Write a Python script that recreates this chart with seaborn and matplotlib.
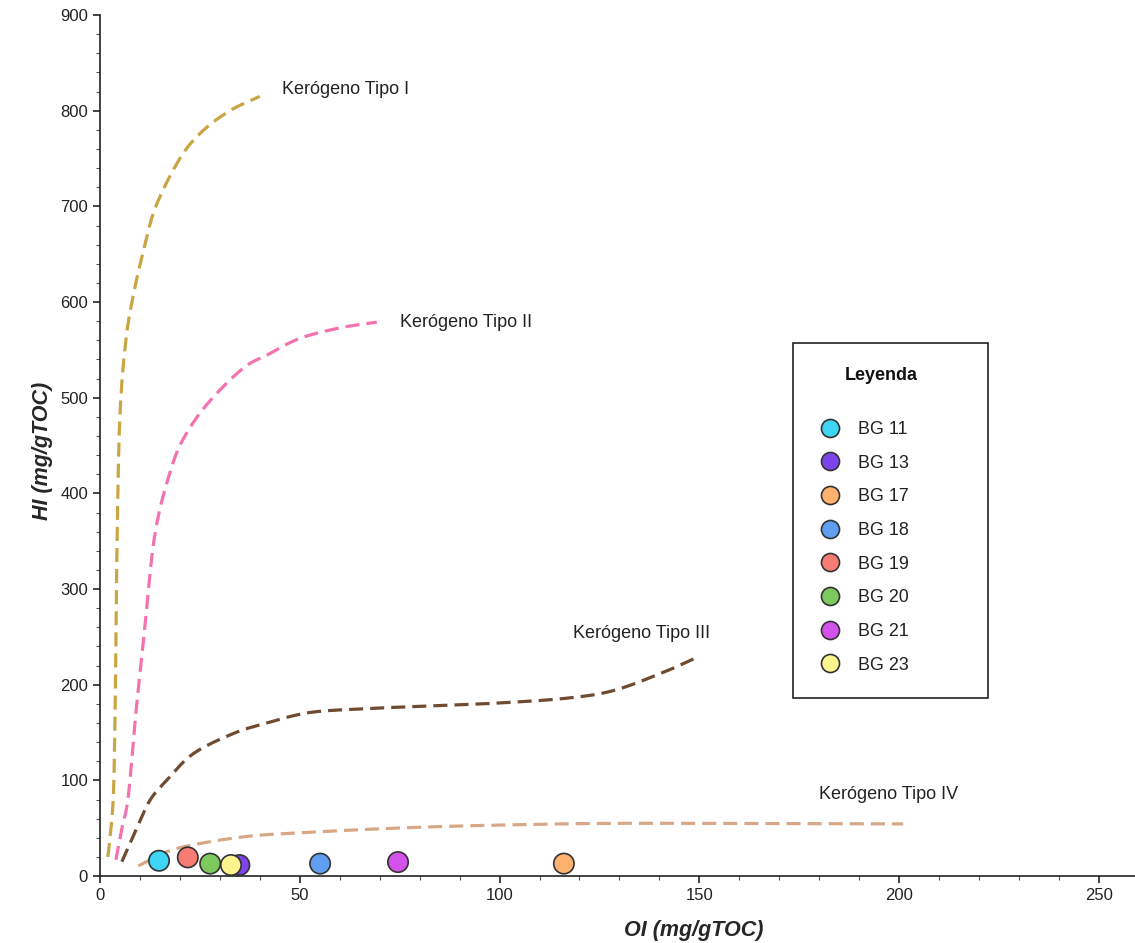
import matplotlib
matplotlib.use("Agg")
import matplotlib.pyplot as plt
import seaborn as sns
import pandas as pd
import numpy as np
from matplotlib.ticker import MultipleLocator
from matplotlib.lines import Line2D
from matplotlib.patches import Rectangle

sns.set_theme(style="ticks")
plt.rcParams['font.family'] = ['Liberation Sans', 'DejaVu Sans']

# Samples
samples = ["BG 11", "BG 13", "BG 17", "BG 18", "BG 19", "BG 20", "BG 21", "BG 23"]
oi_values = [14.8, 34.9, 116.1, 55.1, 22.0, 27.6, 74.6, 32.8]
hi_values = [16, 11.5, 13, 13, 19.5, 13, 14.6, 11.5]
sample_colors = ["#3fd5f4", "#7d44ec", "#ffb26e", "#5f9ff2", "#f87c74", "#7ec95e", "#d452ec", "#fcf48e"]

# Kerogen type curves
k1_oi = [2.0, 3.0, 3.5, 3.9, 4.3, 5.0, 6.5, 8.5, 11.0, 14.0, 20.0, 25.5, 32.5, 40.0]
k1_hi = [20, 60, 100, 200, 350, 480, 560, 610, 655, 700, 750, 778, 800, 815]
k2_oi = [4.0, 5.5, 7.1, 9.0, 11.0, 13.8, 18.0, 21.7, 27.6, 35.9, 42.0, 50.0, 60.0, 69.3]
k2_hi = [17, 50, 83, 170, 250, 358, 428, 463, 497, 531, 545, 562, 573, 579]
k3_oi = [5.5, 9.0, 12.5, 16.7, 23.4, 33.4, 41.8, 52.6, 66.8, 83.5, 100.3, 117.0, 128.6, 141.0, 149.6]
k3_hi = [15, 48, 79, 100, 128, 149, 160, 171, 175, 178, 181, 186, 194, 213, 229]
k4_oi = [9.6, 16.7, 25.0, 37.6, 50.1, 66.8, 83.5, 100.3, 125.4, 160.0, 201.0]
k4_hi = [10.5, 25.4, 34, 41.8, 45.2, 48.8, 51.5, 53.3, 55, 55, 54.5]
curve_names = ["Kerógeno Tipo I", "Kerógeno Tipo II", "Kerógeno Tipo III", "Kerógeno Tipo IV"]
curve_colors = ["#c9a543", "#f472b0", "#6e4b31", "#d6a887"]
label_oi = [45.5, 75.0, 118.5, 180.0]
label_hi = [822, 579, 254, 85]


def catmull_rom(x, y, n=25):
    xs = np.asarray(x, float) / 260.0
    ys = np.asarray(y, float) / 900.0
    P = np.column_stack([xs, ys])
    P = np.vstack([2 * P[0] - P[1], P, 2 * P[-1] - P[-2]])
    out = []
    for i in range(1, len(P) - 2):
        p0, p1, p2, p3 = P[i - 1], P[i], P[i + 1], P[i + 2]
        t = np.linspace(0, 1, n, endpoint=False)[:, None]
        seg = 0.5 * ((2 * p1) + (-p0 + p2) * t + (2 * p0 - 5 * p1 + 4 * p2 - p3) * t ** 2
                     + (-p0 + 3 * p1 - 3 * p2 + p3) * t ** 3)
        out.append(seg)
    out.append(P[-2][None, :])
    out = np.vstack(out)
    return out[:, 0] * 260.0, out[:, 1] * 900.0


fig = plt.figure(figsize=(11.35, 9.43), dpi=100)
ax = fig.add_axes([0.088, 0.071, 0.912, 0.913])

for xs, ys, name, col in zip([k1_oi, k2_oi, k3_oi, k4_oi], [k1_hi, k2_hi, k3_hi, k4_hi],
                             curve_names, curve_colors):
    sx, sy = catmull_rom(xs, ys)
    sub = pd.DataFrame({"OI": sx, "HI": sy})
    sns.lineplot(data=sub, x="OI", y="HI", sort=False, estimator=None, color=col,
                 linewidth=2.3, ax=ax, legend=False)
for line in ax.get_lines():
    line.set_dashes([4.4, 2.2])

df = pd.DataFrame({"OI": oi_values, "HI": hi_values, "muestra": samples})
sns.scatterplot(data=df, x="OI", y="HI", hue="muestra", palette=sample_colors,
                s=215, edgecolor="#333333", linewidth=1.2, ax=ax, legend=False, zorder=5)

for name, x, y in zip(curve_names, label_oi, label_hi):
    ax.text(x, y, name, fontsize=13, color="#222222", va="center", ha="left")

ax.set_xlim(0, 259)
ax.set_ylim(0, 900)
ax.xaxis.set_major_locator(MultipleLocator(50))
ax.xaxis.set_minor_locator(MultipleLocator(10))
ax.yaxis.set_major_locator(MultipleLocator(100))
ax.yaxis.set_minor_locator(MultipleLocator(20))
ax.tick_params(which="major", length=5, width=1.2, labelsize=12, colors="#222222")
ax.tick_params(which="minor", length=3, width=0.8, color="#555555")
sns.despine(ax=ax)
for s in ["left", "bottom"]:
    ax.spines[s].set_color("#222222")
    ax.spines[s].set_linewidth(1.2)

ax.set_xlabel("OI (mg/gTOC)", fontsize=15.5, fontweight="bold", fontstyle="italic")
ax.set_ylabel("HI (mg/gTOC)", fontsize=15.5, fontweight="bold", fontstyle="italic")
ax.xaxis.label.set_va("center")
ax.xaxis.set_label_coords(0.574, -0.063)
ax.yaxis.label.set_va("center")
ax.yaxis.set_label_coords(-0.055, 0.494)

W, H = 1135.0, 943.0
# legend frame and title
fig.patches.append(Rectangle((793 / W, 1 - 698 / H), 195 / W, 355 / H, transform=fig.transFigure,
                             fill=False, edgecolor="#222222", linewidth=1.2))
fig.text(881 / W, 1 - 375 / H, "Leyenda", fontsize=13, fontweight="bold", color="#111111",
         ha="center", va="center")
handles = [Line2D([0], [0], marker="o", linestyle="none", markersize=13,
                  markerfacecolor=c, markeredgecolor="#333333", markeredgewidth=1.2)
           for c in sample_colors]
leg = ax.legend(handles, samples, loc="upper left",
                bbox_to_anchor=(819 / W, 1 - 421 / H), bbox_transform=fig.transFigure,
                frameon=False, fontsize=12.9, labelspacing=0.93, handlelength=1.2,
                handletextpad=1.0, borderpad=0, borderaxespad=0)
for t in leg.get_texts():
    t.set_color("#222222")

fig.savefig("out.png", dpi=100)
